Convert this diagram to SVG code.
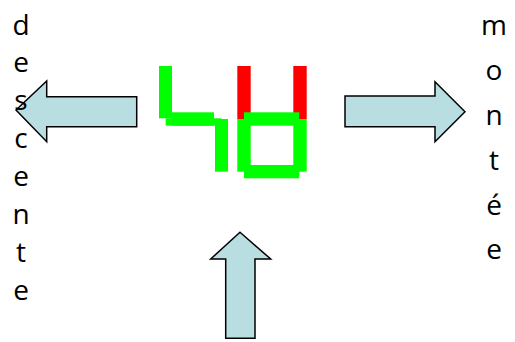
<svg xmlns="http://www.w3.org/2000/svg" width="515" height="342" viewBox="0 0 515 342">
<style>
.arrow{fill:#b8dee1;stroke:#000;stroke-width:1.5;stroke-linejoin:miter}
.g{fill:#00ff00}
.r{fill:#ff0000}
.t{font-family:"Open Sans","Liberation Sans",Arial,sans-serif;font-size:28px;fill:#000;text-anchor:middle}
</style>
<rect width="515" height="342" fill="#fff"/>
<g id="display">
<rect class="r" x="237.3" y="66" width="13.4" height="53"/>
<rect class="r" x="293.3" y="66" width="13.4" height="53"/>
<rect class="g" x="159" y="66" width="13" height="52.3"/>
<rect class="g" x="172" y="112.3" width="42" height="13.4"/>
<rect class="g" x="165.7" y="118.3" width="55.6" height="7.4"/>
<rect class="g" x="215" y="119" width="13" height="52.7"/>
<rect class="g" x="244" y="112.3" width="55.3" height="13.4"/>
<rect class="g" x="237.3" y="119" width="13.4" height="52.7"/>
<rect class="g" x="293.3" y="119" width="13.4" height="52.7"/>
<rect class="g" x="244" y="165" width="55.3" height="13.3"/>
</g>
<g id="connectors">
<polygon class="arrow" points="16,110 46.7,81 46.7,96.7 136.7,96.7 136.7,126.7 46.7,126.7 46.7,141.7"/>
<polygon class="arrow" points="465,111.7 435,81.7 435,96 345,96 345,126.7 435,126.7 435,141.7"/>
<polygon class="arrow" points="240,232.3 270.7,259 255,259 255,338.3 225.7,338.3 225.7,259 210.7,259"/>
</g>
<g id="descente" class="t">
<text x="21" y="35">d</text>
<text x="21" y="72">e</text>
<text x="21" y="110">s</text>
<text x="21" y="148">c</text>
<text x="21" y="186">e</text>
<text x="21" y="224">n</text>
<text x="21" y="262">t</text>
<text x="21" y="300">e</text>
</g>
<g id="montee" class="t">
<text x="494" y="35">m</text>
<text x="494" y="80">o</text>
<text x="494" y="125">n</text>
<text x="494" y="170">t</text>
<text x="494" y="215">é</text>
<text x="494" y="259">e</text>
</g>
</svg>
